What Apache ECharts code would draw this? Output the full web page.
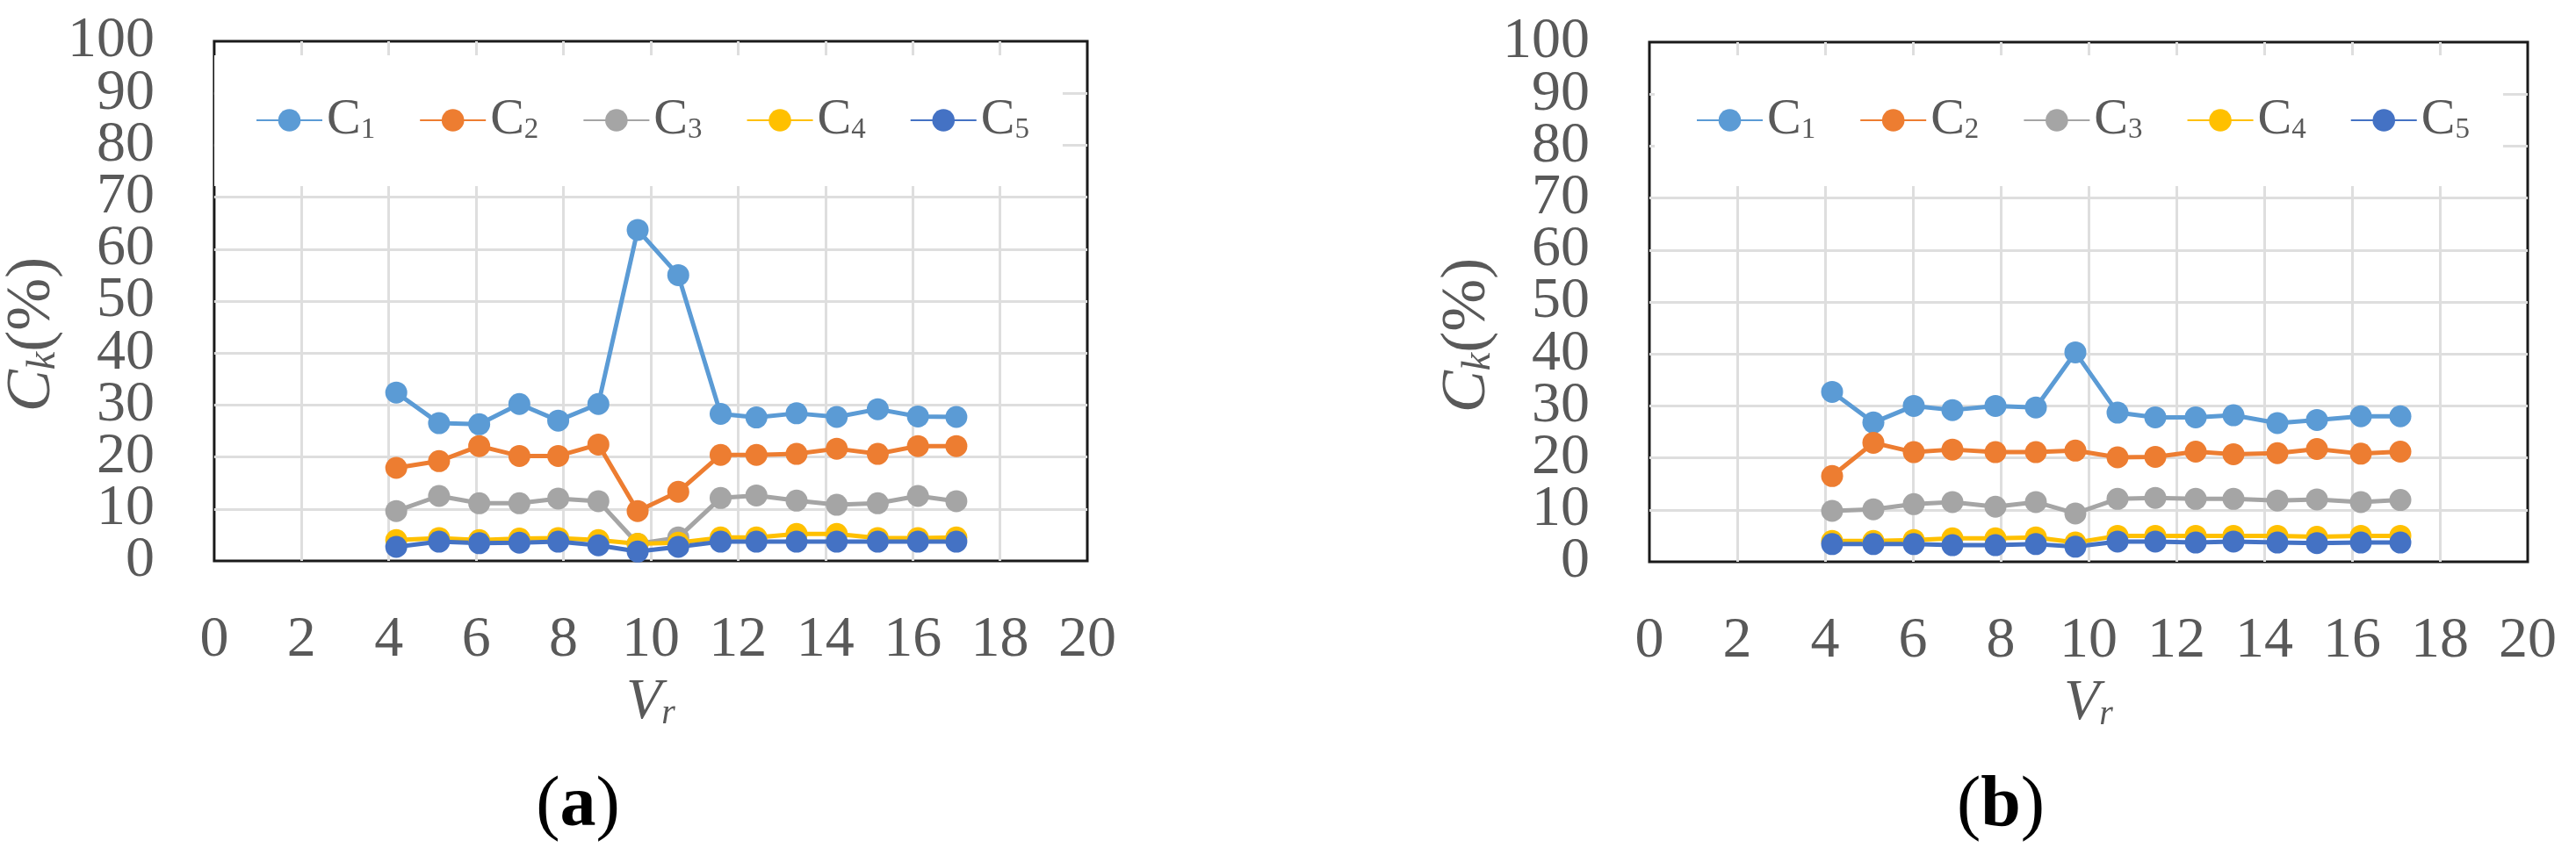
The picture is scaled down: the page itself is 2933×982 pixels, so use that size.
<!DOCTYPE html>
<html><head><meta charset="utf-8">
<script src="https://cdn.jsdelivr.net/npm/echarts@6/dist/echarts.min.js"></script>
<style>html,body{margin:0;padding:0;background:#fff}#c{width:2933px;height:982px}</style>
</head><body><div id="c"></div>
<script>
// ---- data ----
const seriesNames = ['C1', 'C2', 'C3', 'C4', 'C5'];
const seriesColors = ['#5B9BD5', '#ED7D31', '#A5A5A5', '#FFC000', '#4472C4'];
const panelLabels = ['a', 'b'];
const xMin = 0, xMax = 20, xStep = 2;
const yMin = 0, yMax = 100, yStep = 10;

const vrA = [4.17, 5.15, 6.07, 6.99, 7.88, 8.8, 9.7, 10.63, 11.6, 12.42, 13.34, 14.26, 15.2, 16.12, 17.0];
const c1A = [32.4, 26.5, 26.3, 30.2, 27.0, 30.2, 63.7, 55.0, 28.3, 27.6, 28.4, 27.7, 29.2, 27.8, 27.7];
const c2A = [17.9, 19.2, 22.1, 20.2, 20.2, 22.4, 9.6, 13.3, 20.4, 20.4, 20.6, 21.6, 20.6, 22.1, 22.1];
const c3A = [9.6, 12.5, 11.1, 11.1, 12.0, 11.5, 3.3, 4.5, 12.1, 12.6, 11.6, 10.8, 11.1, 12.5, 11.5];
const c4A = [4.0, 4.4, 4.0, 4.3, 4.4, 4.0, 3.3, 3.5, 4.5, 4.5, 5.2, 5.2, 4.4, 4.4, 4.5];
const c5A = [2.7, 3.7, 3.4, 3.5, 3.7, 3.0, 1.8, 2.7, 3.7, 3.7, 3.7, 3.7, 3.7, 3.7, 3.7];

const vrB = [4.16, 5.1, 6.02, 6.9, 7.88, 8.8, 9.7, 10.66, 11.52, 12.44, 13.3, 14.3, 15.2, 16.2, 17.1];
const c1B = [32.7, 26.8, 30.0, 29.2, 30.0, 29.7, 40.3, 28.7, 27.8, 27.8, 28.2, 26.7, 27.3, 28.0, 28.0];
const c2B = [16.5, 22.9, 21.1, 21.6, 21.1, 21.1, 21.4, 20.1, 20.2, 21.2, 20.7, 20.9, 21.7, 20.8, 21.2];
const c3B = [9.8, 10.1, 11.1, 11.5, 10.6, 11.5, 9.3, 12.1, 12.3, 12.1, 12.1, 11.8, 12.0, 11.5, 11.9];
const c4B = [4.0, 4.0, 4.2, 4.5, 4.5, 4.7, 3.7, 5.0, 5.0, 5.0, 5.0, 5.0, 4.8, 5.0, 5.0];
const c5B = [3.4, 3.4, 3.4, 3.2, 3.2, 3.4, 2.9, 3.9, 3.9, 3.7, 3.9, 3.7, 3.6, 3.7, 3.7];

// ---- chart ----
const FONT = 'Liberation Serif';
const TXT = '#595959';
const panels = [
  { vr: vrA, vals: [c1A, c2A, c3A, c4A, c5A], left: 238, top: 47, capX: 658 },
  { vr: vrB, vals: [c1B, c2B, c3B, c4B, c5B], left: 1878, top: 48, capX: 2278 }
];

const chart = echarts.init(document.getElementById('c'), null, { renderer: 'canvas' });

const yLabelStyle = { fontSize: 66, fontFamily: FONT, color: TXT, lineHeight: 40 };

const grids = [], xAxes = [], yAxes = [], legends = [], series = [], graphics = [];
panels.forEach((p, pi) => {
  grids.push({ left: p.left, top: p.top, width: 1000, height: 592, show: true,
    borderColor: '#1a1a1a', borderWidth: 3, backgroundColor: 'transparent' });
  xAxes.push({
    type: 'value', gridIndex: pi, min: xMin, max: xMax, interval: xStep,
    axisLine: { show: false }, axisTick: { show: false },
    splitLine: { show: true, showMinLine: false, showMaxLine: false, lineStyle: { color: '#DEDEDE', width: 3 } },
    axisLabel: { fontSize: 66, fontFamily: FONT, color: TXT, margin: 58, lineHeight: 66,
      showMinLabel: true, showMaxLabel: true, hideOverlap: false },
    name: '{i|V}{s|r}', nameLocation: 'middle', nameGap: 126,
    nameTextStyle: { rich: {
      i: { fontSize: 66, fontFamily: FONT, fontStyle: 'italic', color: TXT, lineHeight: 66 },
      s: { fontSize: 40, fontFamily: FONT, fontStyle: 'italic', color: TXT, lineHeight: 66, verticalAlign: 'bottom', padding: [26, 0, 0, 0] }
    } }
  });
  // main y axis: grid lines, name and labels at even tens
  yAxes.push({
    type: 'value', gridIndex: pi, min: yMin, max: yMax, interval: yStep, position: 'left',
    axisLine: { show: false }, axisTick: { show: false },
    splitLine: { show: true, showMinLine: false, showMaxLine: false, lineStyle: { color: '#DEDEDE', width: 3 } },
    axisLabel: Object.assign({ margin: 68, showMinLabel: true, showMaxLabel: true, hideOverlap: false,
      formatter: v => (v / yStep) % 2 === 0 ? String(v) : '' }, yLabelStyle),
    name: '{i|C}{s|k}{n|(%)}', nameLocation: 'middle', nameGap: 140, nameRotate: 90,
    nameTextStyle: { padding: [0, 76, 0, 0], rich: {
      i: { fontSize: 72, fontFamily: FONT, fontStyle: 'italic', color: TXT, lineHeight: 72 },
      s: { fontSize: 46, fontFamily: FONT, fontStyle: 'italic', color: TXT, lineHeight: 72, verticalAlign: 'bottom', padding: [26, 0, 0, 0] },
      n: { fontSize: 72, fontFamily: FONT, color: TXT, lineHeight: 72 }
    } }
  });
  // companion y axis: labels at odd tens only (same scale)
  yAxes.push({
    type: 'value', gridIndex: pi, min: yMin, max: yMax, interval: yStep, position: 'left', offset: 0,
    axisLine: { show: false }, axisTick: { show: false }, splitLine: { show: false },
    axisLabel: Object.assign({ margin: 68, showMinLabel: true, showMaxLabel: true, hideOverlap: false,
      formatter: v => (v / yStep) % 2 === 1 ? String(v) : '' }, yLabelStyle)
  });
  legends.push({
    data: seriesNames, left: p.left + 6, top: 63, orient: 'horizontal',
    itemWidth: 75, itemHeight: 32, itemGap: 50,
    padding: [45, 38, 46, 47], backgroundColor: '#fff',
    formatter: n => '{c|C}{s|' + n.slice(1) + '}',
    textStyle: { rich: {
      c: { fontSize: 58, fontFamily: FONT, color: TXT, lineHeight: 56 },
      s: { fontSize: 33, fontFamily: FONT, color: TXT, lineHeight: 56, verticalAlign: 'bottom', padding: [22, 0, 0, 0] }
    } }
  });
  seriesNames.forEach((nm, i) => {
    series.push({
      type: 'line', name: nm, xAxisIndex: pi, yAxisIndex: pi * 2,
      data: p.vr.map((x, j) => [x, p.vals[i][j]]),
      symbol: 'circle', symbolSize: 25, showSymbol: true,
      lineStyle: { width: 5, color: seriesColors[i] },
      itemStyle: { color: seriesColors[i] },
      animation: false
    });
  });
  graphics.push({
    type: 'text', x: p.capX, y: 919,
    style: {
      text: '{p|(}{b|' + panelLabels[pi] + '}{p|)}',
      align: 'center', verticalAlign: 'middle',
      rich: {
        p: { fontSize: 82, fontFamily: FONT, fill: '#000', lineHeight: 90 },
        b: { fontSize: 82, fontFamily: FONT, fontWeight: 'bold', fill: '#000', lineHeight: 90 }
      }
    }
  });
});

chart.setOption({
  animation: false,
  backgroundColor: '#fff',
  grid: grids, xAxis: xAxes, yAxis: yAxes, legend: legends, series: series,
  graphic: graphics
});
</script></body></html>
